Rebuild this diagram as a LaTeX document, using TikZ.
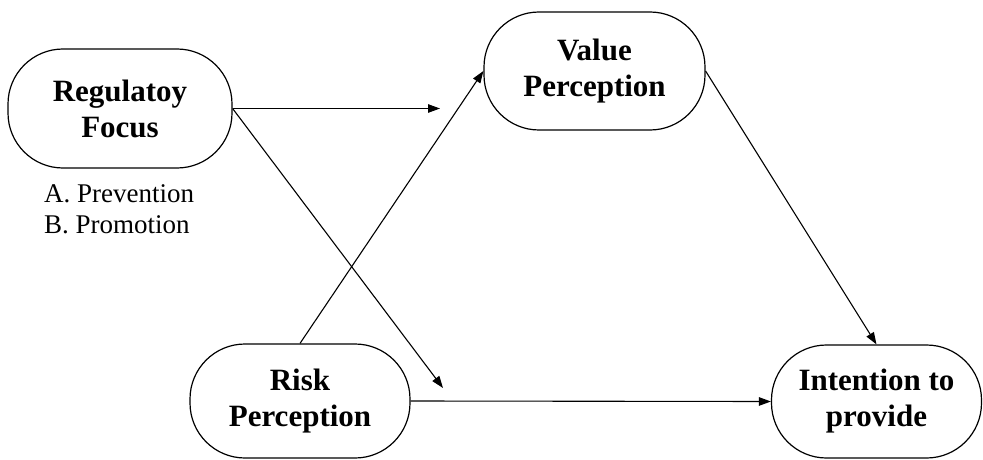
\documentclass[tikz,border=0pt]{standalone}
\usepackage{fontspec}
\setmainfont{Liberation Serif}
\usetikzlibrary{arrows.meta}
\begin{document}
\begin{tikzpicture}[x=1pt,y=1pt,
  pill/.style={draw, line width=1.2pt, rounded corners=55pt, inner sep=0pt, align=center,
    font=\fontsize{31}{36}\selectfont\bfseries},
  arr/.style={line width=1.1pt, -{Triangle[length=12pt,width=8.5pt]}},
  listtext/.style={font=\fontsize{27}{31}\selectfont, align=left, inner sep=0pt, anchor=base west}]
\useasboundingbox (0,0) rectangle (983,459);
\node[pill, minimum width=224pt, minimum height=119pt] (rf) at (120,350.5) {Regulatoy\\Focus};
\node[pill, minimum width=221pt, minimum height=118pt] (vp) at (594.5,388) {Value\\Perception};
\node[pill, minimum width=220pt, minimum height=114pt] (rp) at (300,58) {Risk\\Perception};
\node[pill, minimum width=210pt, minimum height=113pt] (ip) at (876.5,57.5) {Intention to\\provide};
\node[listtext] (lst) at (44,226) {A.\ Prevention\\B.\ Promotion};
\coordinate (a1) at (440,350.5);
\coordinate (a2) at (443,71);
\draw[arr] (rf.east) -- (a1);
\draw[arr] (rf.east) -- (a2);
\draw[arr] (rp.north) -- (vp.west);
\draw[arr] (vp.east) -- (ip.north);
\draw[arr] (rp.east) -- (ip.west);
\end{tikzpicture}
\end{document}
